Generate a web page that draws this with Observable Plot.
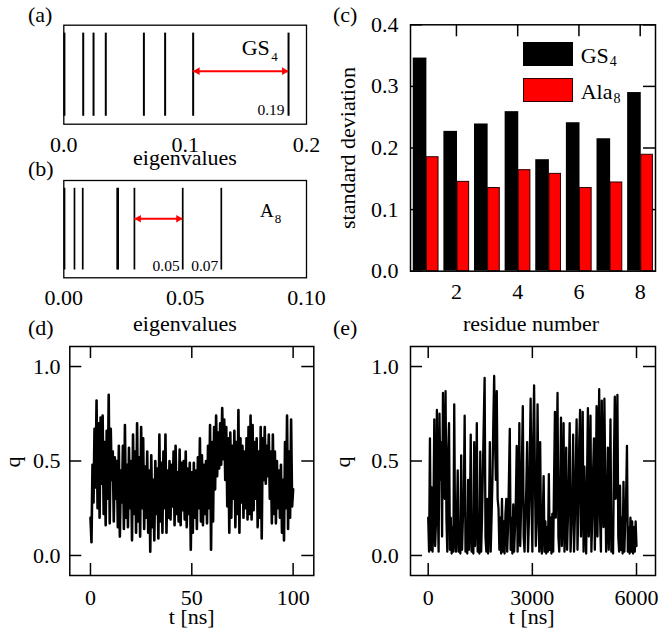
<!DOCTYPE html>
<html><head><meta charset="utf-8">
<script src="https://cdn.jsdelivr.net/npm/d3@7"></script>
<script src="https://cdn.jsdelivr.net/npm/@observablehq/plot@0.6"></script>
<style>
html,body{margin:0;padding:0;background:#fff;}
#fig{position:relative;width:659px;height:636px;font-family:"Liberation Serif","Times New Roman",serif;color:#000;overflow:hidden;background:#fff}
.lbl{position:absolute;white-space:nowrap;}
.sw{position:absolute;box-sizing:border-box;}
</style></head><body><div id="fig"></div>
<script>
// ---------- data ----------
const eigGS4 = [0.0005, 0.016, 0.0245, 0.0346, 0.066, 0.0835, 0.1066, 0.1852];
const gapGS4 = [0.1066, 0.1852];
const gapLabelGS4 = [{x: 0.1852, text: "0.19"}];
const eigA8 = [0.0003, 0.0044, 0.0078, 0.0220, 0.0224, 0.0291, 0.049, 0.0649];
const gapA8 = [0.0291, 0.049];
const gapLabelA8 = [{x: 0.049, text: "0.05"}, {x: 0.0649, text: "0.07"}];

const residues = [1, 2, 3, 4, 5, 6, 7, 8];
const sdGS4  = [0.346, 0.227, 0.239, 0.259, 0.181, 0.241, 0.215, 0.290];
const sdAla8 = [0.185, 0.145, 0.135, 0.164, 0.158, 0.135, 0.144, 0.189];

const ticksA = [0, 0.1, 0.2];
const ticksB = [0, 0.05, 0.1];
const ticksCX = [2, 4, 6, 8];
const ticksCY = [0, 0.1, 0.2, 0.3, 0.4];
const ticksQ = [0, 0.5, 1.0];
const ticksTD = [0, 50, 100];
const ticksTE = [0, 3000, 6000];

const dtD = 0.5;   // ns per sample, panel (d)
const qTraceD = [
0.20,0.07,0.48,0.28,0.67,0.36,0.82,0.25,0.70,0.20,
0.73,0.38,0.74,0.22,0.60,0.16,0.66,0.30,0.85,0.17,
0.67,0.40,0.55,0.18,0.52,0.30,0.50,0.15,0.58,0.10,
0.45,0.28,0.58,0.14,0.69,0.20,0.48,0.15,0.57,0.25,
0.50,0.08,0.64,0.22,0.55,0.12,0.70,0.18,0.52,0.10,
0.68,0.25,0.62,0.14,0.47,0.20,0.55,0.12,0.45,0.02,
0.53,0.15,0.40,0.08,0.50,0.22,0.46,0.09,0.64,0.18,
0.49,0.12,0.55,0.25,0.64,0.12,0.45,0.20,0.50,0.19,
0.48,0.26,0.55,0.16,0.58,0.22,0.44,0.18,0.56,0.16,
0.49,0.24,0.50,0.19,0.55,0.15,0.46,0.22,0.49,0.03,
0.44,0.12,0.49,0.20,0.45,0.14,0.52,0.25,0.62,0.18,
0.53,0.16,0.48,0.22,0.50,0.17,0.58,0.25,0.69,0.03,
0.60,0.18,0.68,0.35,0.74,0.42,0.65,0.46,0.70,0.48,
0.78,0.51,0.72,0.40,0.68,0.26,0.62,0.12,0.65,0.20,
0.58,0.30,0.66,0.15,0.60,0.22,0.77,0.12,0.62,0.28,
0.58,0.20,0.55,0.25,0.62,0.19,0.68,0.22,0.74,0.19,
0.69,0.24,0.60,0.30,0.62,0.15,0.55,0.20,0.68,0.09,
0.62,0.40,0.68,0.38,0.58,0.42,0.64,0.30,0.55,0.17,
0.64,0.22,0.55,0.17,0.50,0.25,0.45,0.20,0.48,0.12,
0.40,0.08,0.60,0.25,0.74,0.14,0.55,0.20,0.72,0.26,
0.35];

const dtE = 25;    // ns per sample, panel (e)
const qTraceE = [
0.2,0.02,0.62,0.03,0.36,0.02,0.2,0.72,0.05,0.18,
0.77,0.3,0.02,0.75,0.4,0.6,0.1,0.86,0.5,0.3,
0.87,0.2,0.02,0.55,0.7,0.03,0.2,0.01,0.15,0.02,
0.8,0.1,0.02,0.18,0.45,0.02,0.16,0.01,0.53,0.03,
0.2,0.3,0.74,0.02,0.15,0.01,0.4,0.03,0.18,0.64,
0.02,0.2,0.01,0.6,0.05,0.22,0.7,0.02,0.15,0.01,
0.55,0.02,0.2,0.45,0.7,0.94,0.1,0.02,0.3,0.01,
0.18,0.6,0.02,0.2,0.4,0.7,0.95,0.6,0.4,0.87,
0.3,0.25,0.03,0.2,0.01,0.3,0.02,0.18,0.01,0.22,
0.3,0.02,0.15,0.4,0.67,0.03,0.2,0.01,0.27,0.02,
0.15,0.3,0.58,0.02,0.2,0.7,0.05,0.25,0.5,0.79,
0.1,0.02,0.2,0.35,0.6,0.02,0.18,0.5,0.83,0.3,
0.02,0.6,0.9,0.4,0.05,0.2,0.8,0.3,0.02,0.6,
0.1,0.01,0.2,0.42,0.02,0.18,0.01,0.15,0.02,0.43,
0.03,0.2,0.01,0.22,0.02,0.4,0.76,0.2,0.5,0.86,
0.1,0.02,0.3,0.73,0.05,0.2,0.7,0.02,0.18,0.57,
0.03,0.2,0.4,0.7,0.02,0.15,0.3,0.64,0.02,0.2,
0.45,0.72,0.03,0.25,0.6,0.77,0.1,0.3,0.76,0.02,
0.47,0.2,0.01,0.4,0.78,0.1,0.3,0.74,0.02,0.2,
0.45,0.62,0.03,0.3,0.79,0.1,0.5,0.88,0.2,0.02,
0.82,0.3,0.15,0.83,0.4,0.02,0.2,0.57,0.03,0.25,
0.72,0.02,0.2,0.01,0.5,0.84,0.3,0.6,0.85,0.1,
0.02,0.37,0.03,0.2,0.01,0.39,0.02,0.18,0.3,0.58,
0.02,0.15,0.01,0.2,0.02,0.18,0.01,0.15,0.02,0.18,
0.05];

// ---------- layout / style ----------
const fig = document.getElementById("fig");
const FONT = '"Liberation Serif","Times New Roman",serif';
const LINE_LO = 0.08, LINE_HI = 0.92;
const ARROW_Y_A = 0.536, ARROW_Y_B = 0.606, NUM_Y_A = 0.14, NUM_Y_B = 0.126;
const TICK = 12;
const ASC = 0.891, CONTENT = 1.107;

function place(svg, left, top) {
  svg.style.position = "absolute";
  svg.style.left = left + "px";
  svg.style.top = top + "px";
  svg.style.background = "transparent";
  svg.style.overflow = "visible";
  svg.style.maxWidth = "none";
  fig.appendChild(svg);
}
function baseStyle(size) { return `font-family:${FONT};font-size:${size}px;`; }
// horizontal text placed by its baseline
function textAt(html, x, baseline, size, anchor = "start", lh = 1) {
  const d = document.createElement("div");
  d.className = "lbl";
  d.innerHTML = html;
  d.style.fontSize = size + "px";
  d.style.lineHeight = lh;
  const off = ((lh - CONTENT) / 2 + ASC) * size;  // baseline offset from box top
  d.style.left = x + "px";
  d.style.top = (baseline - off) + "px";
  if (anchor === "middle") d.style.transform = "translateX(-50%)";
  fig.appendChild(d);
}
// text rotated -90deg, placed by the x of its baseline and its centre y
function vtextAt(html, baseX, cy, size, lh = 0.6) {
  const d = document.createElement("div");
  d.className = "lbl";
  d.innerHTML = html;
  d.style.fontSize = size + "px";
  d.style.lineHeight = lh;
  const off = ((lh - CONTENT) / 2 + ASC) * size;
  const boxH = lh * size;
  const cx = baseX - off + boxH / 2;
  d.style.left = cx + "px";
  d.style.top = cy + "px";
  d.style.transform = "translate(-50%,-50%) rotate(-90deg)";
  fig.appendChild(d);
}
function swatch(left, top, w, h, fill, border) {
  const d = document.createElement("div");
  d.className = "sw";
  Object.assign(d.style, {left: left + "px", top: top + "px", width: w + "px", height: h + "px", background: fill, border: border});
  fig.appendChild(d);
}

function arrowMarks(gap, yv) {
  return [
    Plot.ruleY([gap], {x1: d => d[0], x2: d => d[1], y: yv, stroke: "#f00", strokeWidth: 2}),
    Plot.dot([gap], {x: d => d[1], y: yv, symbol: "triangle", r: 2.8, fill: "#f00", stroke: null, rotate: 90, dx: -4.3}),
    Plot.dot([gap], {x: d => d[0], y: yv, symbol: "triangle", r: 2.8, fill: "#f00", stroke: null, rotate: -90, dx: 4.3})
  ];
}

// ---------- panel (a) ----------
{
  const svg = Plot.plot({
    width: 330, height: 170, marginLeft: 63.3, marginRight: 24, marginTop: 24.7, marginBottom: 46.3,
    style: baseStyle(22),
    x: {domain: [0, 0.2]},
    y: {domain: [0, 1], axis: null},
    marks: [
      Plot.ruleX(eigGS4, {x: d => d, y1: LINE_LO, y2: LINE_HI, stroke: "#000", strokeWidth: 2}),
      ...arrowMarks(gapGS4, ARROW_Y_A),
      Plot.text(gapLabelGS4, {x: "x", y: NUM_Y_A, text: "text", textAnchor: "end", dx: -4, fontSize: 15.5, fill: "#000"}),
      Plot.frame({stroke: "#000", strokeWidth: 1.3}),
      Plot.axisX({ticks: ticksA, tickFormat: d3.format(".1f"), tickSize: 0, tickPadding: 12, label: null, fill: "#000"})
    ]
  });
  place(svg, 0, 0);
}
// ---------- panel (b) ----------
{
  const svg = Plot.plot({
    width: 330, height: 175, marginLeft: 63.3, marginRight: 24, marginTop: 20, marginBottom: 57.7,
    style: baseStyle(22),
    x: {domain: [0, 0.1]},
    y: {domain: [0, 1], axis: null},
    marks: [
      Plot.ruleX(eigA8, {x: d => d, y1: LINE_LO, y2: LINE_HI, stroke: "#000", strokeWidth: 1.7}),
      ...arrowMarks(gapA8, ARROW_Y_B),
      Plot.text(gapLabelA8, {x: "x", y: NUM_Y_B, text: "text", textAnchor: "end", dx: -3, fontSize: 15.5, fill: "#000"}),
      Plot.frame({stroke: "#000", strokeWidth: 1.3}),
      Plot.axisX({ticks: ticksB, tickFormat: d3.format(".2f"), tickSize: 0, tickPadding: 12, label: null, fill: "#000"})
    ]
  });
  place(svg, 0, 160);
}
// ---------- panel (c) ----------
{
  const W = 329, H = 340, ml = 80, mr = 4, mt = 24.3, mb = 69.3;
  const fw = W - ml - mr, fh = H - mt - mb;
  const cData = residues.map((r, i) => ({r, gs4: sdGS4[i], ala8: sdAla8[i]}));
  const svg = Plot.plot({
    width: W, height: H, marginLeft: ml, marginRight: mr, marginTop: mt, marginBottom: mb,
    style: baseStyle(22),
    x: {domain: [0.5, 8.5]},
    y: {domain: [0, 0.4]},
    marks: [
      Plot.tickY(ticksCY, {y: d => d, insetRight: fw - TICK, stroke: "#000", strokeWidth: 1.5}),
      Plot.tickY(ticksCY, {y: d => d, insetLeft: fw - TICK, stroke: "#000", strokeWidth: 1.5}),
      Plot.tickX(ticksCX, {x: d => d, insetBottom: fh - TICK, stroke: "#000", strokeWidth: 1.5}),
      Plot.tickX(ticksCX, {x: d => d, insetTop: fh - TICK, stroke: "#000", strokeWidth: 1.5}),
      Plot.rect(cData, {x1: d => d.r - 0.41, x2: d => d.r + 0.035, y1: 0, y2: "gs4", fill: "#000"}),
      Plot.rect(cData, {x1: d => d.r + 0.035, x2: d => d.r + 0.415, y1: 0, y2: "ala8", fill: "#f00", stroke: "#2a0000", strokeWidth: 1}),
      Plot.frame({stroke: "#000", strokeWidth: 1.5}),
      Plot.axisY({ticks: ticksCY, tickFormat: d3.format(".1f"), tickSize: 0, tickPadding: 12, label: null, fill: "#000"}),
      Plot.axisX({ticks: ticksCX, tickSize: 0, tickPadding: 12, label: null, fill: "#000"})
    ]
  });
  place(svg, 330, 0);
}
// ---------- panels (d), (e) ----------
function tracePanel(trace, dt, xDomain, xTicks, ml, mr, W, left, yPad, sw) {
  const H = 296, mt = 6, mb = 61;
  const fw = W - ml - mr, fh = H - mt - mb;
  const data = trace.map((q, i) => ({t: i * dt, q}));
  const svg = Plot.plot({
    width: W, height: H, marginLeft: ml, marginRight: mr, marginTop: mt, marginBottom: mb,
    style: baseStyle(22),
    x: {domain: xDomain},
    y: {domain: [-0.106, 1.106]},
    marks: [
      Plot.line(data, {x: "t", y: "q", stroke: "#000", strokeWidth: sw, strokeLinejoin: "round"}),
      Plot.tickY(ticksQ, {y: d => d, insetRight: fw - TICK, stroke: "#000", strokeWidth: 1.5}),
      Plot.tickY(ticksQ, {y: d => d, insetLeft: fw - TICK, stroke: "#000", strokeWidth: 1.5}),
      Plot.tickX(xTicks, {x: d => d, insetBottom: fh - TICK, stroke: "#000", strokeWidth: 1.5}),
      Plot.tickX(xTicks, {x: d => d, insetTop: fh - TICK, stroke: "#000", strokeWidth: 1.5}),
      Plot.frame({stroke: "#000", strokeWidth: 1.5}),
      Plot.axisY({ticks: ticksQ, tickFormat: d3.format(".1f"), tickSize: 0, tickPadding: yPad, label: null, fill: "#000"}),
      Plot.axisX({ticks: xTicks, tickFormat: d3.format("d"), tickSize: 0, tickPadding: 14, label: null, fill: "#000"})
    ]
  });
  place(svg, left, 340);
}
tracePanel(qTraceD, dtD, [-10.2, 110.2], ticksTD, 69.3, 16.7, 330, 0, 9.3, 2.6);
tracePanel(qTraceE, dtE, [-510, 6547], ticksTE, 80, 4, 329, 330, 11.7, 2.3);

// ---------- labels ----------
textAt("(a)", 28, 22, 22);
textAt("(b)", 28, 176, 22);
textAt("(c)", 333, 22, 22);
textAt("(d)", 28, 335, 22);
textAt("(e)", 333, 335, 22);

textAt("eigenvalues", 185, 165.5, 22, "middle", 0.7);
textAt("eigenvalues", 185, 331, 22, "middle", 0.7);
textAt("residue number", 531, 331, 22, "middle", 0.7);
textAt("t [ns]", 191.7, 624, 22, "middle", 0.7);
textAt("t [ns]", 531.7, 624, 22, "middle", 0.7);
vtextAt("q", 20, 462, 22);
vtextAt("q", 350.5, 462, 22);
vtextAt("standard deviation", 355.5, 148, 22);

textAt('GS<span style="font-size:13px;position:relative;top:6.7px;margin-left:1.5px">4</span>', 241.7, 55, 22);
textAt('A<span style="font-size:13px;position:relative;top:6.7px;margin-left:1px">8</span>', 260, 216.7, 19);

// legend (c)
swatch(522.7, 41.7, 50.6, 24.3, "#000", "none");
swatch(522.7, 77.7, 50.6, 24, "#f00", "1px solid #2a0000");
textAt('GS<span style="font-size:14px;position:relative;top:3px;margin-left:1px">4</span>', 580.7, 63.5, 22);
textAt('Ala<span style="font-size:14px;position:relative;top:3.5px;margin-left:1px">8</span>', 580.7, 99.5, 22);
</script></body></html>
